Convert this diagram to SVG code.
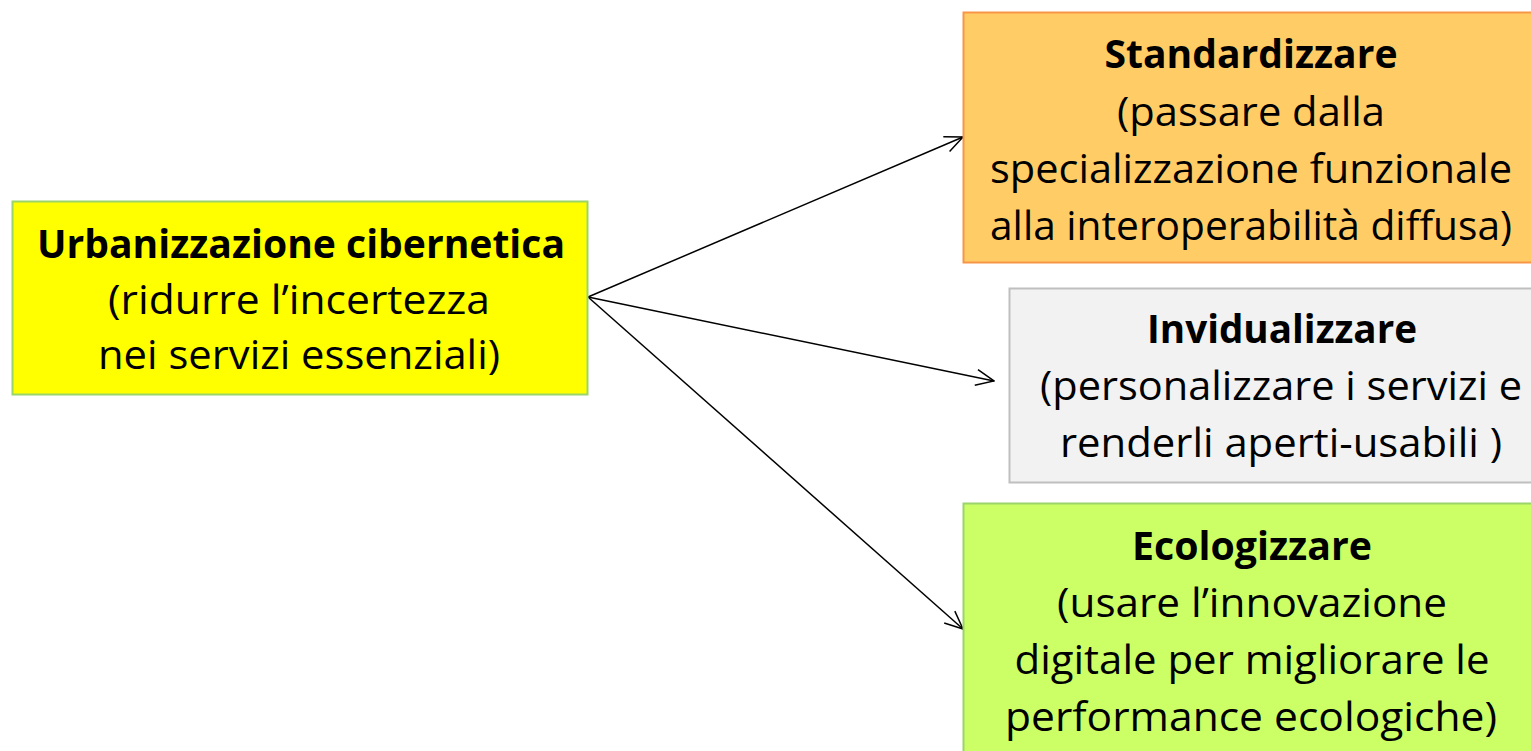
<svg xmlns="http://www.w3.org/2000/svg" width="1531" height="751" viewBox="0 0 1531 751">
<defs>
<style>
text{font-family:"Open Sans","Noto Sans","Liberation Sans",sans-serif;font-size:40px;fill:#000;text-anchor:middle}
.b{font-weight:bold}
.c{stroke:#000;stroke-width:1.5;fill:none}
</style>
<marker id="ah" viewBox="0 0 20 20" refX="19" refY="10" markerWidth="20" markerHeight="20" markerUnits="userSpaceOnUse" orient="auto">
<path d="M1,2 L19,10 L1,18" fill="none" stroke="#000" stroke-width="1.5"/>
</marker>
</defs>
<rect width="1531" height="751" fill="#fff"/>
<g id="connectors">
<line class="c" x1="588" y1="297" x2="963" y2="137" marker-end="url(#ah)"/>
<line class="c" x1="588" y1="297" x2="994" y2="381" marker-end="url(#ah)"/>
<line class="c" x1="588" y1="297" x2="963" y2="629" marker-end="url(#ah)"/>
</g>
<g id="node-urbanizzazione">
<rect x="12.5" y="201.5" width="575" height="193" fill="#FFFF00" stroke="#9BD468" stroke-width="2"/>
<text class="b" x="301" y="258" textLength="528" lengthAdjust="spacingAndGlyphs">Urbanizzazione cibernetica</text>
<text x="299" y="314" textLength="382" lengthAdjust="spacingAndGlyphs">(ridurre l’incertezza</text>
<text x="299" y="369" textLength="402" lengthAdjust="spacingAndGlyphs">nei servizi essenziali)</text>
</g>
<g id="node-standardizzare">
<rect x="963.5" y="12.5" width="572" height="250" fill="#FFCC66" stroke="#F79646" stroke-width="2"/>
<text class="b" x="1251" y="68" textLength="293" lengthAdjust="spacingAndGlyphs">Standardizzare</text>
<text x="1251" y="126" textLength="268" lengthAdjust="spacingAndGlyphs">(passare dalla</text>
<text x="1251" y="183" textLength="522" lengthAdjust="spacingAndGlyphs">specializzazione funzionale</text>
<text x="1251" y="240" textLength="522" lengthAdjust="spacingAndGlyphs">alla interoperabilità diffusa)</text>
</g>
<g id="node-invidualizzare">
<rect x="1009.5" y="288.5" width="526" height="194" fill="#F2F2F2" stroke="#BFBFBF" stroke-width="2"/>
<text class="b" x="1282" y="343" textLength="270" lengthAdjust="spacingAndGlyphs">Invidualizzare</text>
<text x="1281" y="400" textLength="482" lengthAdjust="spacingAndGlyphs">(personalizzare i servizi e</text>
<text x="1281" y="457" textLength="442" lengthAdjust="spacingAndGlyphs">renderli aperti-usabili )</text>
</g>
<g id="node-ecologizzare">
<rect x="963.5" y="503.5" width="572" height="252" fill="#CCFF66" stroke="#9BD468" stroke-width="2"/>
<text class="b" x="1252" y="560" textLength="240" lengthAdjust="spacingAndGlyphs">Ecologizzare</text>
<text x="1252" y="617" textLength="390" lengthAdjust="spacingAndGlyphs">(usare l’innovazione</text>
<text x="1252" y="674" textLength="475" lengthAdjust="spacingAndGlyphs">digitale per migliorare le</text>
<text x="1251" y="731" textLength="492" lengthAdjust="spacingAndGlyphs">performance ecologiche)</text>
</g>
</svg>
